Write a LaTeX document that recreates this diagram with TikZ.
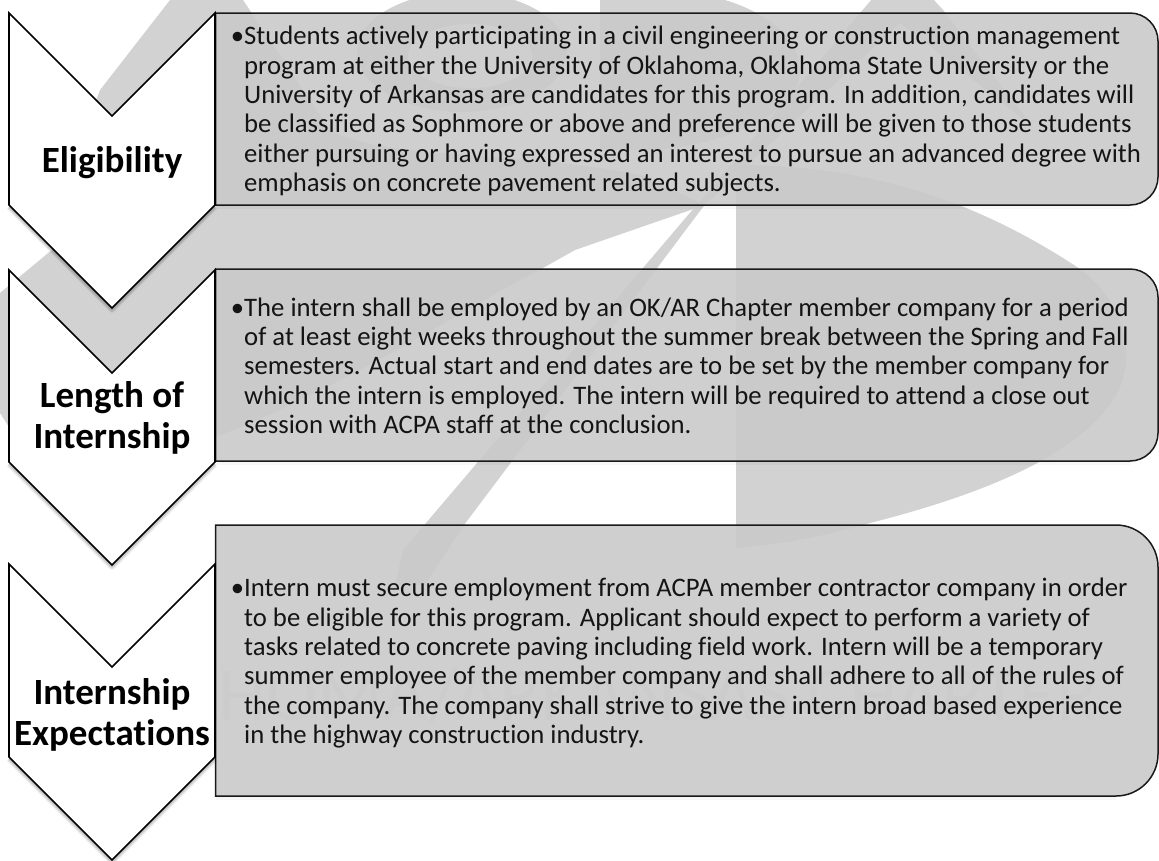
\documentclass[tikz,border=0pt]{standalone}
\usepackage{fontspec}
\setmainfont[Ligatures=NoCommon]{Carlito}
\definecolor{wm}{gray}{0.825}
\tikzset{
  x=1pt,y=-1pt,
  wmshape/.style={fill=wm,draw=none},
  boxshape/.style={fill={rgb,1:red,0.793;green,0.793;blue,0.793},fill opacity=0.89,draw={rgb,1:red,0.1;green,0.1;blue,0.1},draw opacity=1,line width=1.5pt,line join=miter},
  chevshape/.style={fill=white,draw=black,line width=1.6pt,line join=miter},
  bodytext/.style={anchor=north west,align=left,inner sep=0pt,text=black!92,font=\fontsize{26.7}{29.35}\selectfont},
  headtext/.style={align=center,inner sep=0pt,font=\fontsize{37}{41.3}\selectfont\bfseries}
}
% #1 top of the sides, #2 bottom of the sides
\newcommand{\chevpath}[2]{(9,#1) -- (112,{#1+103}) -- (215,#1) -- (215,#2) -- (112,{#2+103}) -- (9,#2) -- cycle}
\newcommand{\chevron}[2]{%
  \foreach \w/\o in {6/0.05,4/0.07,2/0.1}{
    \draw[black,opacity=\o,line width=\w pt,line join=round] (9,{#2+2}) -- (112,{#2+105}) -- (215,{#2+2});
  }
  \draw[chevshape] \chevpath{#1}{#2};
}
% #1 top, #2 bottom, #3 radius
\newcommand{\textbox}[3]{%
  \draw[black,opacity=0.03,line width=3pt] (216,{#2+2}) -- ({1158-#3},{#2+2});
  \draw[boxshape] (215.5,#1) -- ({1158-#3},#1)
    .. controls ({1158-0.45*#3},#1) and (1158,{#1+0.45*#3}) .. (1158,{#1+#3})
    -- (1158,{#2-#3})
    .. controls (1158,{#2-0.45*#3}) and ({1158-0.45*#3},#2) .. ({1158-#3},#2)
    -- (215.5,#2) -- cycle;
}
\begin{document}
\begin{tikzpicture}
\useasboundingbox (0,0) rectangle (1159,860);
\clip (0,0) rectangle (1159,860);
\fill[white] (0,0) rectangle (1159,860);

% watermark logo
\fill[wmshape] (170,0) -- (100,90) -- (60,200) -- (53,249) -- (0,293) -- (0,413) -- (9,427)
  .. controls (60,455) and (150,465) .. (216,437)
  .. controls (350,385) and (470,305) .. (543,268)
  -- (575,250) -- (705,205) -- (640,175)
  .. controls (520,150) and (380,160) .. (330,130)
  -- (243,0) -- cycle;
\fill[wmshape] (860,13) -- (880,-10) -- (925,-10) -- (943,10) -- (1033,127) -- (900,23)
  -- (703,207) -- (464,525) -- (425,585) -- (395,585) -- (403,550) -- cycle;
\fill[wmshape] (736,165) .. controls (850,165) and (960,190) .. (1077,267)
  .. controls (1125,300) and (1140,360) .. (1113,400)
  .. controls (1080,450) and (1000,490) .. (870,523)
  .. controls (830,535) and (780,545) .. (736,548) -- cycle;
\fill[wmshape,even odd rule] (462,52) ellipse[x radius=105pt,y radius=60pt] (470,56) ellipse[x radius=62pt,y radius=32pt];
\fill[wmshape] (600,-5) -- (700,-5) .. controls (745,0) and (800,30) .. (800,70)
  .. controls (800,110) and (740,140) .. (660,150) -- (600,150) -- cycle;
\node[anchor=base east,inner sep=0pt,text={rgb,1:red,0.885;green,0.885;blue,0.885},font=\fontsize{77}{77}\selectfont] (wmtext) at (1098,720) {OKLAHOMA/ARKANSAS CHAPTER};

% text boxes
\textbox{13}{205}{28}
\textbox{269}{461}{28}
\textbox{525}{796}{42}

% chevrons
\chevron{13}{205}
\chevron{270}{462}
\chevron{564}{757}

\node[headtext] (headA) at (112,162.5) {Eligibility};
\node[headtext] (headB) at (112,418) {Length of\\Internship};
\node[headtext] (headC) at (112,715) {Internship\\Expectations};

\node[bodytext] (bodyA) at (244,26) {\llap{•}Students actively participating in a civil engineering or construction management\\
program at either the University of Oklahoma, Oklahoma State University or the\\
University of Arkansas are candidates for this program. In addition, candidates will\\
be classified as Sophmore or above and preference will be given to those students\\
either pursuing or having expressed an interest to pursue an advanced degree with\\
emphasis on concrete pavement related subjects.};
\node[bodytext] (bodyB) at (244,297.5) {\llap{•}The intern shall be employed by an OK/AR Chapter member company for a period\\
of at least eight weeks throughout the summer break between the Spring and Fall\\
semesters. Actual start and end dates are to be set by the member company for\\
which the intern is employed. The intern will be required to attend a close out\\
session with ACPA staff at the conclusion.};
\node[bodytext] (bodyC) at (244,578) {\llap{•}Intern must secure employment from ACPA member contractor company in order\\
to be eligible for this program. Applicant should expect to perform a variety of\\
tasks related to concrete paving including field work. Intern will be a temporary\\
summer employee of the member company and shall adhere to all of the rules of\\
the company. The company shall strive to give the intern broad based experience\\
in the highway construction industry.};
\end{tikzpicture}
\end{document}
